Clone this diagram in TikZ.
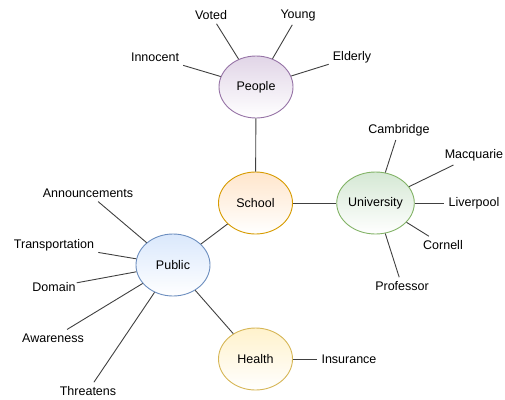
\documentclass[tikz,border=0pt]{standalone}
\usepackage{fontspec}
\setmainfont{Liberation Sans}
\usetikzlibrary{shapes}
\definecolor{peoplebg}{HTML}{E1D5E7}
\definecolor{peopleln}{HTML}{9673A6}
\definecolor{schoolbg}{HTML}{FFE6CC}
\definecolor{schoolln}{HTML}{D79B00}
\definecolor{unibg}{HTML}{D5E8D4}
\definecolor{uniln}{HTML}{82B366}
\definecolor{publicbg}{HTML}{DAE8FC}
\definecolor{publicln}{HTML}{6C8EBF}
\definecolor{healthbg}{HTML}{FFF2CC}
\definecolor{healthln}{HTML}{D6B656}
\tikzset{
  topic/.style={ellipse,draw,line width=0.9pt,inner sep=0pt,
    minimum width=74pt,minimum height=62pt,bottom color=white},
  leaf/.style={inner sep=4pt},
  link/.style={draw=black!75,line width=0.9pt}
}

\begin{document}
\begin{tikzpicture}[x=1pt,y=-1pt,font=\fontsize{12.5}{14}\selectfont]
    \useasboundingbox (0,0) rectangle (505,399);
    % Topics
    \node[topic,draw=peopleln,top color=peoplebg] (people) at (256,87) {People};
    \node[topic,draw=schoolln,top color=schoolbg] (school) at (255.5,203) {School};
    \node[topic,draw=uniln,top color=unibg] (uni) at (375.5,203) {University};
    \node[topic,draw=publicln,top color=publicbg] (public) at (173,265) {Public};
    \node[topic,draw=healthln,top color=healthbg] (health) at (255.5,359) {Health};
    % People
    \node[leaf] (voted) at (211,15) {Voted};
    \node[leaf] (young) at (298,15) {Young};
    \node[leaf] (innocent) at (155,57) {Innocent};
    \node[leaf] (elderly) at (352,57) {Elderly};
    % University
    \node[leaf] (cambridge) at (399,130) {Cambridge};
    \node[leaf] (macquarie) at (474,155) {Macquarie};
    \node[leaf] (liverpool) at (474,203) {Liverpool};
    \node[leaf] (cornell) at (443,245) {Cornell};
    \node[leaf] (professor) at (402,286) {Professor};
    % Public
    \node[leaf] (announce) at (88,193) {Announcements};
    \node[leaf] (transport) at (54,245) {Transportation};
    \node[leaf,inner sep=1pt] (domain) at (54,287) {Domain};
    \node[leaf] (awareness) at (53,338) {Awareness};
    \node[leaf] (threatens) at (88,391) {Threatens};
    % Health
    \node[leaf] (insurance) at (349,359) {Insurance};
    % Links
    \path[link] (people) -- (school);
    \path[link] (school) -- (uni);
    \path[link] (school) -- (public);
    \path[link] (public) -- (health);
    \path[link] (people) -- (voted);
    \path[link] (people) -- (young);
    \path[link] (people) -- (innocent);
    \path[link] (people) -- (elderly);
    \path[link] (uni) -- (cambridge);
    \path[link] (uni) -- (macquarie);
    \path[link] (uni) -- (liverpool);
    \path[link] (uni) -- (cornell);
    \path[link] (uni) -- (professor);
    \path[link] (public) -- (announce);
    \path[link] (public) -- (transport);
    \path[link] (public) -- (domain);
    \path[link] (public) -- (awareness);
    \path[link] (public) -- (threatens);
    \path[link] (health) -- (insurance);
  \end{tikzpicture}
\end{document}
